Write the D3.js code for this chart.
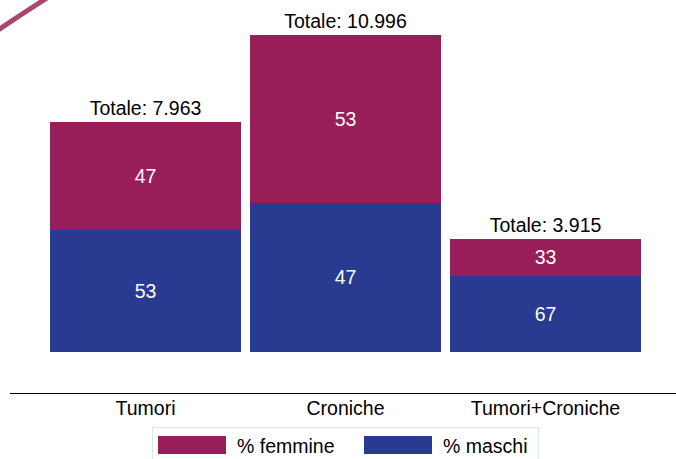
<!DOCTYPE html>
<html><head><meta charset="utf-8">
<script src="https://cdn.jsdelivr.net/npm/d3@7"></script>
<style>body{margin:0;background:#fff}svg{display:block}text{font-family:"Liberation Sans",Arial,sans-serif}</style>
</head><body><svg id="c" width="676" height="459"></svg>
<script>
const categories = ["Tumori", "Croniche", "Tumori+Croniche"];
const totals = [7963, 10996, 3915];
const pctMaschi = [53, 47, 67];
const pctFemmine = [47, 53, 33];
const seriesNames = ["% femmine", "% maschi"];
const colors = {femmine: "#981e5a", maschi: "#283b90"};

const FS = 19.5;
const svg = d3.select("#c");
const fmt = v => d3.format(",")(v).replace(/,/g, ".");

const x = d3.scaleBand().domain(categories).range([45.5, 645.5]).paddingInner(0.045).paddingOuter(0.0225);
const y = d3.scaleLinear().domain([0, 12000]).range([352, 6]).interpolate(d3.interpolateRound);

// decorative arc top-left
svg.append("path").attr("d", "M-2,30 Q22,14 47,-2").attr("fill", "none").attr("stroke", "#a8466f").attr("stroke-width", 5);

const data = categories.map((c, i) => ({
  cat: c, total: totals[i],
  m: totals[i] * pctMaschi[i] / 100, pm: pctMaschi[i], pf: pctFemmine[i]
}));

const g = svg.append("g").attr("shape-rendering", "crispEdges");
data.forEach(d => {
  const bx = Math.round(x(d.cat)), bw = Math.round(x.bandwidth());
  g.append("rect").attr("x", bx).attr("width", bw).attr("y", y(d.m)).attr("height", y(0) - y(d.m)).attr("fill", colors.maschi);
  g.append("rect").attr("x", bx).attr("width", bw).attr("y", y(d.total)).attr("height", y(d.m) - y(d.total)).attr("fill", colors.femmine);
  g.append("text").attr("x", bx + bw / 2).attr("y", (y(d.m) + y(0)) / 2).attr("dy", "0.35em").attr("text-anchor", "middle").attr("fill", "#fff").attr("font-size", FS).text(d.pm);
  g.append("text").attr("x", bx + bw / 2).attr("y", (y(d.m) + y(d.total)) / 2).attr("dy", "0.35em").attr("text-anchor", "middle").attr("fill", "#fff").attr("font-size", FS).text(d.pf);
  g.append("text").attr("x", bx + bw / 2).attr("y", y(d.total) - 7.5).attr("text-anchor", "middle").attr("fill", "#000").attr("font-size", FS).text("Totale: " + fmt(d.total));
});

// axis
const ax = svg.append("g").attr("transform", "translate(0,393.5)").call(d3.axisBottom(x).tickSize(0).tickPadding(0));
ax.select(".domain").remove();
ax.append("line").attr("x1", 10).attr("x2", 676).attr("stroke", "#000").attr("stroke-width", 1);
ax.selectAll(".tick text").attr("dy", null).attr("y", 21.5).attr("font-size", FS).attr("fill", "#000").attr("font-family", "Liberation Sans, Arial, sans-serif");

// legend
const lg = svg.append("g");
lg.append("rect").attr("x", 152.5).attr("y", 427.5).attr("width", 386).attr("height", 40).attr("fill", "#fff").attr("stroke", "#dde6e6");
const lx = [158, 364];
seriesNames.forEach((s, i) => {
  lg.append("rect").attr("x", lx[i]).attr("y", 436).attr("width", 68).attr("height", 18).attr("fill", i === 0 ? colors.femmine : colors.maschi);
  lg.append("text").attr("x", lx[i] + 79).attr("y", 453).attr("font-size", FS).attr("fill", "#000").text(s);
});
</script></body></html>
